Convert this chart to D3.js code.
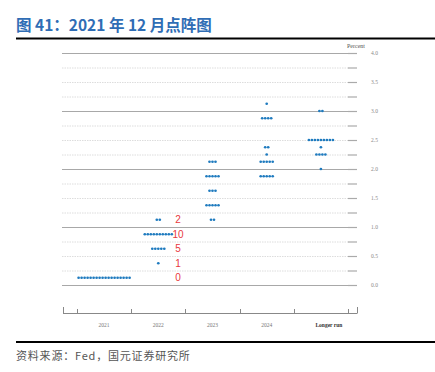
<!DOCTYPE html>
<html>
<head>
<meta charset="utf-8">
<script src="https://cdn.jsdelivr.net/npm/d3@7"></script>
<style>
  body { margin: 0; background: #fff; }
  svg { display: block; }
</style>
</head>
<body>
<div class="dotplot"></div>
<script>
// categories and dot counts per rate (midpoint of target range)
const categories = ["2021", "2022", "2023", "2024", "Longer run"];
const dots2021 = [[0.125, 18]];
const dots2022 = [[0.375, 1], [0.625, 5], [0.875, 10], [1.125, 2]];
const dots2023 = [[1.125, 2], [1.375, 5], [1.625, 3], [1.875, 5], [2.125, 3]];
const dots2024 = [[1.875, 5], [2.125, 5], [2.25, 1], [2.375, 2], [2.875, 4], [3.125, 1]];
const dotsLonger = [[2.0, 1], [2.25, 4], [2.375, 1], [2.5, 9], [3.0, 2]];
const allDots = [dots2021, dots2022, dots2023, dots2024, dotsLonger];

// red counts written next to 2022
const noteRates = [1.125, 0.875, 0.625, 0.375, 0.125];
const noteLabels = ["2", "10", "5", "1", "0"];

const percentTicks = [0, 0.5, 1, 1.5, 2, 2.5, 3, 3.5, 4];

const W = 435, H = 372;
const svg = d3.select('.dotplot')
    .append('svg')
    .attr('width', W)
    .attr('height', H);

// title
svg.append("text")
    .attr("x", 16)
    .attr("y", 31)
    .attr("fill", "#2f6db5")
    .attr("font-family", "Noto Sans CJK SC")
    .attr("font-weight", "bold")
    .attr("font-size", 15.5)
    .text("图 41：2021 年 12 月点阵图");

svg.append("line")
    .attr("x1", 16).attr("x2", 435)
    .attr("y1", 38.5).attr("y2", 38.5)
    .attr("stroke", "#000").attr("stroke-width", 1.8);

// scales
const yScale = d3.scaleLinear().domain([0, 4]).range([285, 53]);
const xScale = d3.scaleBand().domain(categories).range([77, 348]);

// grid lines every 0.25
const gridVals = d3.range(0, 4.001, 0.25);
svg.append("g")
    .selectAll("line")
    .data(gridVals)
    .enter()
    .append("line")
    .attr("x1", 62)
    .attr("x2", 349)
    .attr("y1", d => yScale(d) + 0.5)
    .attr("y2", d => yScale(d) + 0.5)
    .attr("stroke", d => d % 1 === 0 ? "#a8a8a8" : "#d4d4d4")
    .attr("stroke-width", d => d % 1 === 0 ? 1 : 0.8)
    .attr("stroke-dasharray", d => d % 1 === 0 ? null : "1.5,1");

// right axis: short ticks at every 0.25, labels at 0.5
const rightAxis = svg.append("g")
    .attr("transform", "translate(357,0)")
    .call(d3.axisRight(yScale)
        .tickValues(gridVals)
        .tickSizeInner(-9)
        .tickSizeOuter(0)
        .tickPadding(14)
        .tickFormat(d => percentTicks.includes(d) ? d3.format(".1f")(d) : ""));
rightAxis.select(".domain").remove();
rightAxis.selectAll(".tick line").attr("stroke", "#aaa").attr("stroke-width", 1.2);
rightAxis.selectAll(".tick text")
    .attr("fill", "#888")
    .attr("font-family", "Liberation Serif")
    .attr("font-size", 5.5);

svg.append("text")
    .attr("x", 356)
    .attr("y", 48)
    .attr("text-anchor", "middle")
    .attr("fill", "#555")
    .attr("font-family", "Liberation Serif")
    .attr("font-size", 6)
    .text("Percent");

// dots
const spacing = 3;
const flat = [];
allDots.forEach(function(rows, ci){
    rows.forEach(function(r){
        for(let i = 0; i < r[1]; i++){
            flat.push({cat: categories[ci], rate: r[0], off: (i - (r[1] - 1) / 2) * spacing});
        }
    });
});
svg.append("g")
    .selectAll("circle")
    .data(flat)
    .enter()
    .append("circle")
    .attr("cx", d => xScale(d.cat) + xScale.bandwidth() / 2 + d.off)
    .attr("cy", d => yScale(d.rate))
    .attr("r", 1.35)
    .attr("fill", "#1f7bbf");

// red annotations
svg.append("g")
    .selectAll("text")
    .data(noteRates)
    .enter()
    .append("text")
    .attr("x", 178)
    .attr("y", d => yScale(d) + 3.5)
    .attr("text-anchor", "middle")
    .attr("fill", "#e8383d")
    .attr("font-family", "Liberation Sans")
    .attr("font-size", 10)
    .text((d, i) => noteLabels[i]);

// bottom axis
const bottom = svg.append("g")
    .attr("transform", "translate(0,313)");
const bx = d3.scaleLinear().domain([0, categories.length]).range([77, 348]);
bottom.append("line")
    .attr("x1", 63).attr("x2", 357)
    .attr("y1", 0.5).attr("y2", 0.5)
    .attr("stroke", "#888");
[63, 357].forEach(function(x){
    bottom.append("line")
        .attr("x1", x + 0.5).attr("x2", x + 0.5)
        .attr("y1", 0.5).attr("y2", -6)
        .attr("stroke", "#888");
});
bottom.selectAll(".sep")
    .data(d3.range(categories.length + 1))
    .enter()
    .append("line")
    .attr("x1", d => Math.round(bx(d)) + 0.5)
    .attr("x2", d => Math.round(bx(d)) + 0.5)
    .attr("y1", 0.5).attr("y2", -4)
    .attr("stroke", "#888");
bottom.selectAll(".lab")
    .data(categories)
    .enter()
    .append("text")
    .attr("x", d => xScale(d) + xScale.bandwidth() / 2 + (d === "Longer run" ? 8 : 0))
    .attr("y", 14)
    .attr("text-anchor", "middle")
    .attr("fill", d => d === "Longer run" ? "#333" : "#777")
    .attr("font-weight", d => d === "Longer run" ? "bold" : "normal")
    .attr("font-family", "Liberation Serif")
    .attr("font-size", 5.5)
    .text(d => d);

// footer
svg.append("line")
    .attr("x1", 16).attr("x2", 435)
    .attr("y1", 342).attr("y2", 342)
    .attr("stroke", "#000").attr("stroke-width", 2);

svg.append("text")
    .attr("x", 16)
    .attr("y", 360)
    .attr("fill", "#555")
    .attr("font-family", "Noto Sans CJK SC")
    .attr("font-size", 11)
    .attr("letter-spacing", 0.8)
    .text("资料来源：Fed，国元证券研究所");
</script>
</body>
</html>
